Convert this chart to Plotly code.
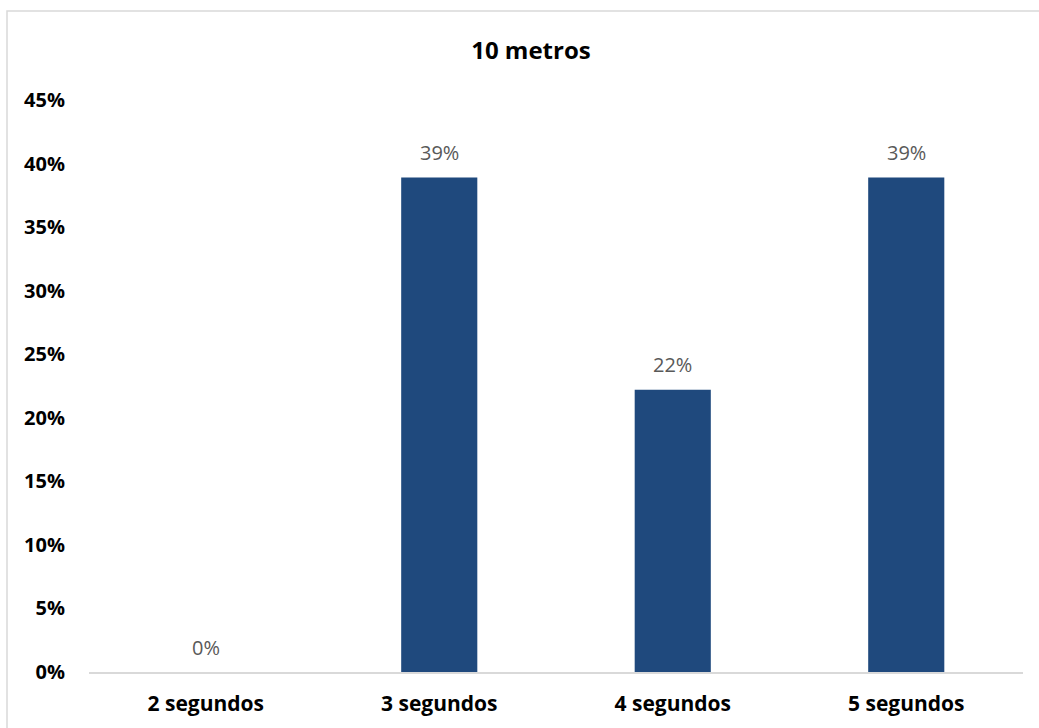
import plotly.graph_objects as go

categories = ["2 segundos", "3 segundos", "4 segundos", "5 segundos"]
values = [0.0, 0.389, 0.222, 0.389]
labels = ["0%", "39%", "22%", "39%"]
title = "10 metros"
tick_vals = [0, 0.05, 0.10, 0.15, 0.20, 0.25, 0.30, 0.35, 0.40, 0.45]
tick_text = ["0%", "5%", "10%", "15%", "20%", "25%", "30%", "35%", "40%", "45%"]

FONT = "'Open Sans', Lato, sans-serif"

fig = go.Figure()
fig.add_trace(go.Bar(
    x=categories, y=values, width=0.326,
    marker=dict(color="#1f497d", line=dict(width=0)),
    hoverinfo="skip",
))

for c, v, t in zip(categories, values, labels):
    fig.add_annotation(x=c, y=v, text=t, showarrow=False, yshift=25,
                       font=dict(family=FONT, size=20, color="#595959"))

fig.add_shape(type="rect", xref="paper", yref="paper",
              x0=-0.0878, x1=1.03, y0=-0.12, y1=1.1556,
              line=dict(color="#d9d9d9", width=1.5), fillcolor="rgba(0,0,0,0)", layer="below")

fig.update_layout(
    width=1039, height=728,
    margin=dict(l=89, r=16, t=100, b=56),
    paper_bgcolor="white", plot_bgcolor="white",
    showlegend=False,
    title=dict(text="<b>" + title + "</b>", x=0.511, xanchor="center", y=0.93, yanchor="middle",
               font=dict(family=FONT, size=24, color="black")),
    xaxis=dict(range=[-0.5, 3.5], showgrid=False, showline=True, linecolor="#d9d9d9", linewidth=1.5,
               ticks="", ticklabelstandoff=12,
               tickfont=dict(family=FONT, size=21, color="black", weight="bold")),
    yaxis=dict(range=[0, 0.45], showgrid=False, showline=False, zeroline=False,
               tickvals=tick_vals, ticktext=tick_text, ticks="", ticklabelstandoff=23,
               tickfont=dict(family=FONT, size=20, color="black", weight="bold")),
)

fig.write_html("out.html")
